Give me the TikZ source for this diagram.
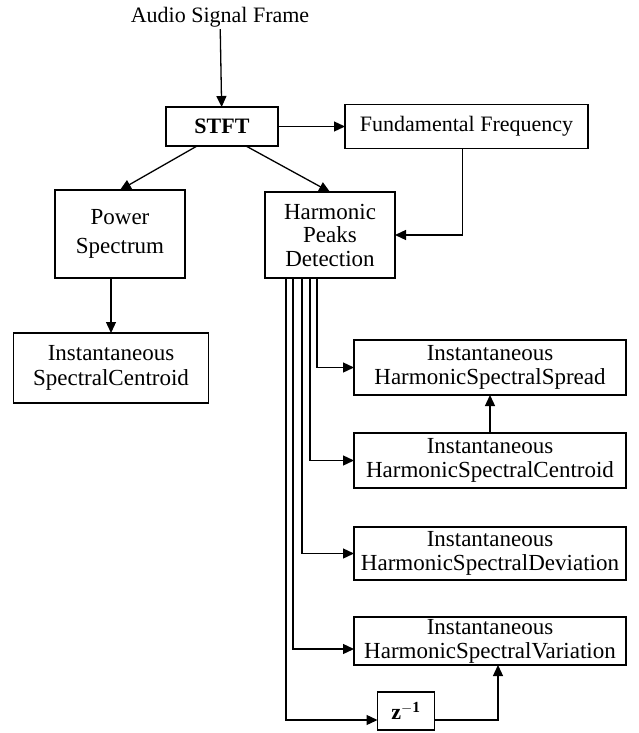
\documentclass[tikz,border=0pt]{standalone}
\usepackage{fontspec}
\setmainfont{Liberation Serif}
\usepackage{tikz}
\usetikzlibrary{arrows.meta, positioning}
\tikzstyle{block} = [rectangle, draw=black, line width=1.3pt, outer sep=0pt, align=center, inner sep=1pt, font=\fontsize{23}{24}\selectfont]
\tikzstyle{bigblock} = [block, minimum width=130pt, font=\fontsize{23}{29}\selectfont]
\tikzstyle{featbox} = [block, minimum width=272pt, minimum height=55pt]
\tikzstyle{arrow} = [line width=1.3pt, -{Triangle[length=11pt,width=10pt]}]

\begin{document}
\begin{tikzpicture}[x=1pt, y=-1pt]
    \useasboundingbox (0,0) rectangle (639,733);
    \node (audio) [font=\fontsize{22}{24}\selectfont, inner sep=2pt] at (220,17) {Audio Signal Frame};
    \node (stft) [block, minimum width=112pt, minimum height=39pt, font=\fontsize{22}{24}\selectfont\bfseries] at (222,126.5) {STFT};
    \node (fund) [block, minimum width=243pt, minimum height=44pt, font=\fontsize{22}{24}\selectfont, right=67pt of stft] {Fundamental Frequency};
    \node (power) [bigblock, minimum height=88pt, below=44pt of stft, xshift=-102pt] {Power\\Spectrum};
    \node (harm) [bigblock, minimum height=86pt, font=\fontsize{23}{23.5}\selectfont, below=46pt of stft, xshift=108pt] {Harmonic\\Peaks\\Detection};
    \node (isc) [block, minimum width=195pt, minimum height=70pt, font=\fontsize{23}{25}\selectfont, below=55pt of power, xshift=-9pt] {Instantaneous\\SpectralCentroid};
    \node (spread) [featbox, below=62pt of harm, xshift=160pt] {Instantaneous\\HarmonicSpectralSpread};
    \node (hcent) [featbox, below=38pt of spread] {Instantaneous\\HarmonicSpectralCentroid};
    \node (hdev) [featbox, minimum height=53pt, below=39pt of hcent] {Instantaneous\\HarmonicSpectralDeviation};
    \node (hvar) [featbox, minimum height=48pt, below=37pt of hdev] {Instantaneous\\HarmonicSpectralVariation};
    \node (zinv) [block, minimum width=57pt, minimum height=38pt, font=\fontsize{22}{24}\selectfont\bfseries, below=27pt of hvar, xshift=-84pt] {z$^{\mathbf{-1}}$};
    \draw[arrow] (audio) -- (stft);
    \draw[arrow] (stft.east) -- (stft.east -| fund.west);
    \draw[arrow] ([xshift=-25pt]stft.south) -- (power.north);
    \draw[arrow] ([xshift=24pt]stft.south) -- (harm.north);
    \draw[arrow] ([xshift=-4pt]fund.south) |- (harm.east);
    \draw[arrow] (isc.north |- power.south) -- (isc.north);
    \draw[arrow] ([xshift=-13pt]harm.south) |- (spread.west);
    \draw[arrow] ([xshift=-20pt]harm.south) |- (hcent.west);
    \draw[arrow] ([xshift=-28pt]harm.south) |- (hdev.west);
    \draw[arrow] ([xshift=-37pt]harm.south) |- ([yshift=-8pt]hvar.west);
    \draw[arrow] ([xshift=-44pt]harm.south) |- ([yshift=-9pt]zinv.west);
    \draw[arrow] ([yshift=-9pt]zinv.east) -| ([xshift=8pt]hvar.south);
    \draw[arrow] (hcent.north) -- (spread.south);
\end{tikzpicture}
\end{document}
